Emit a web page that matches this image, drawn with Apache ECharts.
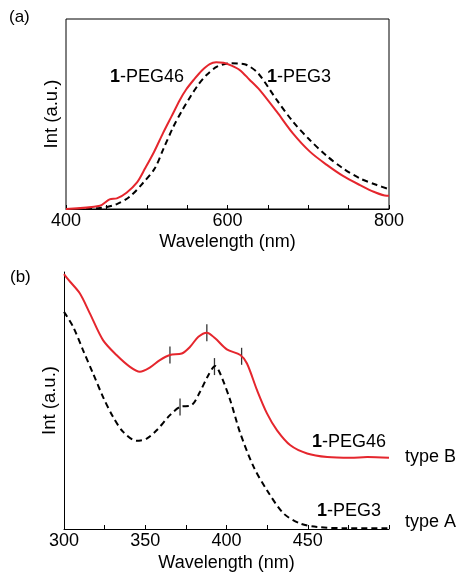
<!DOCTYPE html>
<html><head><meta charset="utf-8">
<script src="https://cdn.jsdelivr.net/npm/echarts@6/dist/echarts.min.js"></script>
<style>html,body{margin:0;padding:0;background:#fff}#c{width:459px;height:573px}</style>
</head><body><div id="c"></div>
<script>
// Panel (a): emission spectra
const emisPEG46 = [[400,0],[442,0.017],[454,0.051],[463,0.056],[475,0.086],[488,0.14],[498,0.214],[509,0.3],[520,0.398],[531,0.49],[541,0.574],[549,0.63],[558,0.679],[568,0.728],[578,0.763],[586,0.772],[595,0.770],[605,0.755],[615,0.732],[627,0.682],[640,0.626],[661,0.512],[681,0.398],[702,0.302],[723,0.232],[743,0.174],[764,0.126],[781,0.091],[797,0.07],[800,0.07]];
const emisPEG3 = [[400,0],[442,0.005],[463,0.026],[479,0.065],[496,0.14],[510,0.214],[521,0.32],[533,0.433],[544,0.52],[554,0.591],[564,0.655],[574,0.705],[587,0.749],[603,0.767],[613,0.766],[624,0.758],[638,0.714],[661,0.574],[681,0.46],[702,0.363],[723,0.279],[743,0.214],[764,0.161],[785,0.126],[800,0.104]];
// Panel (b): absorption / excitation spectra
const absPEG46 = [[300,0.992],[302.8,0.969],[309.7,0.917],[315.9,0.839],[324,0.735],[332.3,0.677],[340.6,0.631],[346.7,0.612],[353,0.629],[359,0.657],[365.2,0.677],[372.5,0.683],[377.6,0.709],[382.7,0.748],[387.9,0.764],[393,0.742],[400.2,0.699],[408.5,0.677],[412.6,0.644],[418.8,0.54],[424.9,0.45],[431.1,0.384],[439.3,0.326],[449.6,0.294],[462,0.28],[476.4,0.277],[486.7,0.28],[500,0.277]];
const absPEG3 = [[300,0.845],[305.6,0.787],[311.7,0.696],[317.9,0.605],[324,0.514],[330.2,0.436],[336.4,0.378],[344.7,0.343],[350.9,0.352],[357,0.384],[365.2,0.443],[371.4,0.475],[378.6,0.482],[383.7,0.534],[388.9,0.599],[393,0.634],[396.1,0.605],[402.3,0.501],[408.5,0.372],[416.7,0.242],[424.9,0.151],[435.2,0.06],[445.5,0.021],[455.8,0.008],[474,0.003],[500,0.003]];
// peak marks (short vertical bars)
const peaks46 = [[365.2,0.677],[387.9,0.764],[409.3,0.672]];
const peaks3 = [[371.4,0.475],[392.6,0.632]];
const ticksA = [400,600,800];
const ticksB = [300,350,400,450];

const RED = '#e5262d';
const FONT = 'Liberation Sans, Arial, Helvetica, sans-serif';
const chart = echarts.init(document.getElementById('c'));
const axisX = (idx, min, max, labels) => ({
  type:'value', gridIndex: idx, min, max, interval: idx===0?50:25,
  axisLine:{show:true,onZero:false,lineStyle:{color:'#000',width:1}},
  axisTick:{show:true,inside:true,length:4,lineStyle:{color:'#000'}},
  splitLine:{show:false},
  axisLabel:{margin:3,color:'#000',fontSize:18,fontFamily:FONT,
    formatter:v=>labels.includes(v)?String(v):''},
  name:'Wavelength (nm)', nameLocation:'middle', nameGap: idx===0?24:25,
  nameTextStyle:{color:'#000',fontSize:18,fontFamily:FONT}
});
const axisY = (idx, showLine) => ({
  type:'value', gridIndex: idx, min:0, max:1,
  axisLine:{show:showLine,lineStyle:{color:'#000',width:1}},
  axisTick:{show:false}, axisLabel:{show:false}, splitLine:{show:false},
  name:'Int (a.u.)', nameLocation:'middle', nameRotate:90, nameGap:5,
  nameTextStyle:{color:'#000',fontSize:18.5,fontFamily:FONT}
});
const rich = {b:{fontWeight:'bold',fontSize:18,fontFamily:FONT,fill:'#000'},n:{fontSize:18,fontFamily:FONT,fill:'#000'}};
const label = (x,y,t,align) => ({type:'text',x,y,style:{text:'{b|1}{n|-'+t+'}',rich,textAlign:align||'left',textVerticalAlign:'middle',font:'18px '+FONT}});
chart.setOption({
  animation:false,
  grid:[
    {left:66,top:19,width:323,height:190,show:true,borderColor:'#000',borderWidth:1,backgroundColor:'transparent'},
    {left:64,top:272,width:325,height:257}
  ],
  xAxis:[axisX(0,400,800,ticksA), axisX(1,300,500,ticksB)],
  yAxis:[axisY(0,false), axisY(1,true)],
  series:[
    {type:'line',xAxisIndex:0,yAxisIndex:0,data:emisPEG3,showSymbol:false,smooth:0.3,lineStyle:{color:'#000',width:2,type:[6,4]}},
    {type:'line',xAxisIndex:0,yAxisIndex:0,data:emisPEG46,showSymbol:false,smooth:0.3,lineStyle:{color:RED,width:2}},
    {type:'line',xAxisIndex:1,yAxisIndex:1,data:absPEG3,showSymbol:false,smooth:0.3,lineStyle:{color:'#000',width:2,type:[6,4]}},
    {type:'line',xAxisIndex:1,yAxisIndex:1,data:absPEG46,showSymbol:false,smooth:0.3,lineStyle:{color:RED,width:2}},
    {type:'scatter',xAxisIndex:1,yAxisIndex:1,data:peaks46.concat(peaks3),symbol:'rect',symbolSize:[1.3,17],itemStyle:{color:'#000'},silent:true}
  ],
  graphic:[
    {type:'text',x:9,y:17,style:{text:'(a)',font:'17px '+FONT,fill:'#000',textVerticalAlign:'middle'}},
    {type:'text',x:10,y:277,style:{text:'(b)',font:'17px '+FONT,fill:'#000',textVerticalAlign:'middle'}},
    label(110,77,'PEG46'),
    label(267,77,'PEG3'),
    label(386,442,'PEG46','right'),
    label(381,511,'PEG3','right'),
    {type:'text',x:405,y:457,style:{text:'type B',font:'18px '+FONT,fill:'#000',textVerticalAlign:'middle'}},
    {type:'text',x:405,y:522,style:{text:'type A',font:'18px '+FONT,fill:'#000',textVerticalAlign:'middle'}}
  ]
});
</script></body></html>
